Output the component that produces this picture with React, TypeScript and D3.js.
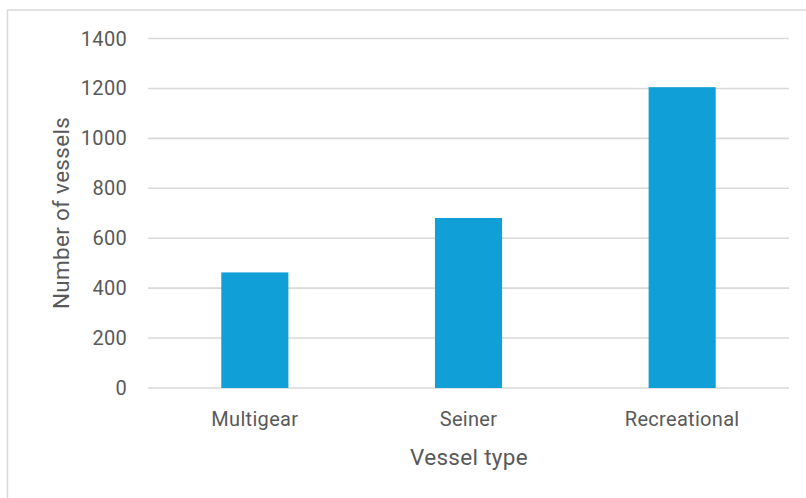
import React from "react";
import * as d3 from "d3";

const categories = ["Multigear", "Seiner", "Recreational"];
const values = [463, 681, 1205];
const yTicks = [0, 200, 400, 600, 800, 1000, 1200, 1400];

export default function App() {
  const W = 806, H = 498;
  const x = d3.scaleBand<string>().domain(categories).range([148, 789]).padding(0);
  const y = d3.scaleLinear().domain([0, 1400]).range([388, 38.5]);
  const barW = x.bandwidth() * 0.314;
  const font = "Roboto, 'DejaVu Sans', sans-serif";
  return (
    <svg width={W} height={H} style={{ position: "fixed", left: 0, top: 0, background: "#fff" }}>
      <rect x={7.5} y={10} width={W} height={H} fill="#fff" stroke="#d9d9d9" strokeWidth={1.5} />
      {yTicks.map((t) => (
        <g key={t}>
          <line x1={148} x2={789} y1={y(t)} y2={y(t)} stroke="#d9d9d9" strokeWidth={1.6} />
          <text x={127} y={y(t)} dy="0.35em" textAnchor="end" fontSize={20} letterSpacing={0.3} fill="#595959" fontFamily={font}>
            {t}
          </text>
        </g>
      ))}
      {categories.map((c, i) => (
        <g key={c}>
          <rect
            x={(x(c) as number) + x.bandwidth() / 2 - barW / 2}
            y={y(values[i])}
            width={barW}
            height={y(0) - y(values[i])}
            fill="#109fd6"
          />
          <text x={(x(c) as number) + x.bandwidth() / 2} y={419} dy="0.35em" textAnchor="middle" fontSize={20} letterSpacing={0.3} fill="#595959" fontFamily={font}>
            {c}
          </text>
        </g>
      ))}
      <text x={469} y={457} dy="0.35em" textAnchor="middle" fontSize={22.5} letterSpacing={0.3} fill="#595959" fontFamily={font}>
        Vessel type
      </text>
      <text transform={`translate(61,213) rotate(-90)`} dy="0.35em" textAnchor="middle" fontSize={22.5} letterSpacing={0.3} fill="#595959" fontFamily={font}>
        Number of vessels
      </text>
    </svg>
  );
}
